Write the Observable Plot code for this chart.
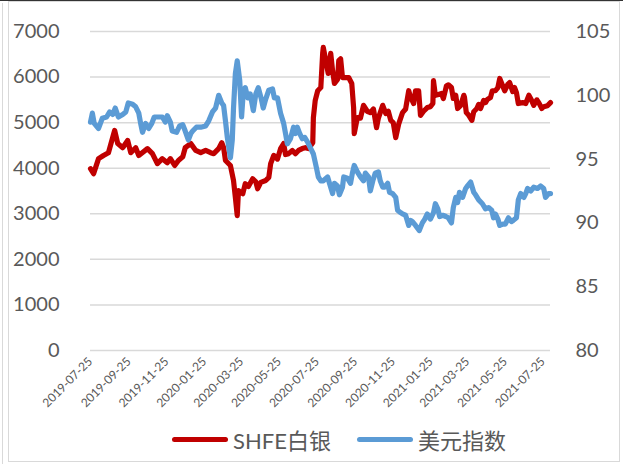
<!DOCTYPE html>
<html>
<head>
<meta charset="utf-8">
<script src="https://cdn.jsdelivr.net/npm/d3@7"></script>
<script src="https://cdn.jsdelivr.net/npm/@observablehq/plot@0.6"></script>
<style>
  html, body { margin: 0; padding: 0; background: #fff; }
  body { width: 623px; height: 464px; position: relative; overflow: hidden;
         font-family: Lato, "Noto Sans CJK SC", sans-serif; }
  #topline { position: absolute; left: 0; top: 0; width: 623px; height: 1px; background: #333; }
  #outer { position: absolute; left: 2px; top: 3px; width: 1px; height: 461px; background: #d9d9d9; }
  #frame { position: absolute; left: 8px; top: 1px; width: 610px; height: 459px; border: 1.5px solid #d9d9d9; }
  #chart { position: absolute; left: 0; top: 0; }
  #legend { position: absolute; left: 172px; top: 423px; display: flex; align-items: center;
            font-size: 22px; color: #595959; white-space: nowrap; }
  .sw { width: 56px; height: 5px; border-radius: 3px; margin-right: 5px; }
  .item { display: flex; align-items: center; margin-right: 26px; }
</style>
</head>
<body>
<div id="topline"></div>
<div id="outer"></div>
<div id="frame"></div>
<div id="chart"></div>
<div id="legend"></div>
<script>
// ---- data ----
const seriesNames = ["SHFE白银", "美元指数"];
const leftTicks = [0, 1000, 2000, 3000, 4000, 5000, 6000, 7000];
const rightTicks = [80, 85, 90, 95, 100, 105];
const xTickLabels = ["2019-07-25","2019-09-25","2019-11-25","2020-01-25","2020-03-25","2020-05-25",
  "2020-07-25","2020-09-25","2020-11-25","2021-01-25","2021-03-25","2021-05-25","2021-07-25"];

const silverDates = [
  "2019-07-25","2019-07-30","2019-08-07","2019-08-15","2019-08-23","2019-09-02","2019-09-07","2019-09-15","2019-09-23","2019-09-28",
  "2019-10-06","2019-10-11","2019-10-25","2019-11-02","2019-11-10","2019-11-18","2019-11-26","2019-12-01","2019-12-08","2019-12-14",
  "2019-12-21","2019-12-25","2020-01-03","2020-01-11","2020-01-19","2020-01-27","2020-02-04","2020-02-09","2020-02-17","2020-02-22",
  "2020-02-25","2020-02-28","2020-03-07","2020-03-12","2020-03-15","2020-03-18","2020-03-20","2020-03-27","2020-03-31","2020-04-05",
  "2020-04-12","2020-04-17","2020-04-20","2020-04-25","2020-05-03","2020-05-08","2020-05-11","2020-05-16","2020-05-22","2020-05-27",
  "2020-06-01","2020-06-04","2020-06-09","2020-06-15","2020-06-20","2020-06-25","2020-07-01","2020-07-06","2020-07-11","2020-07-18",
  "2020-07-19","2020-07-22","2020-07-26","2020-07-31","2020-08-03","2020-08-04","2020-08-12","2020-08-16","2020-08-19","2020-08-22",
  "2020-08-27","2020-08-29","2020-09-01","2020-09-04","2020-09-09","2020-09-14","2020-09-19","2020-09-22","2020-09-23","2020-09-28",
  "2020-10-03","2020-10-08","2020-10-14","2020-10-19","2020-10-24","2020-10-29","2020-11-01","2020-11-08","2020-11-13","2020-11-17",
  "2020-11-21","2020-11-25","2020-11-29","2020-12-04","2020-12-10","2020-12-15","2020-12-20","2020-12-23","2020-12-28","2020-12-31",
  "2021-01-05","2021-01-08","2021-01-13","2021-01-19","2021-01-24","2021-01-28","2021-01-29","2021-02-01","2021-02-06","2021-02-11",
  "2021-02-14","2021-02-19","2021-02-22","2021-02-27","2021-03-02","2021-03-06","2021-03-09","2021-03-14","2021-03-19","2021-03-20",
  "2021-03-23","2021-03-27","2021-04-01","2021-04-04","2021-04-09","2021-04-12","2021-04-15","2021-04-20","2021-04-23","2021-04-26",
  "2021-05-01","2021-05-04","2021-05-09","2021-05-13","2021-05-16","2021-05-21","2021-05-24","2021-05-29","2021-06-01","2021-06-06",
  "2021-06-09","2021-06-12","2021-06-15","2021-06-22","2021-06-27","2021-07-02","2021-07-06","2021-07-10","2021-07-15","2021-07-18",
  "2021-07-23","2021-07-26","2021-08-01","2021-08-06"];
const silverValues = [
  3990,3880,4210,4280,4340,4830,4540,4450,4610,4340,
  4450,4280,4430,4320,4100,4210,4120,4210,4060,4170,
  4250,4450,4540,4390,4340,4390,4340,4320,4430,4560,
  4450,4170,4060,3730,3360,2960,3510,3440,3660,3600,
  3770,3700,3550,3690,3730,3800,4100,4280,4200,4430,
  4540,4300,4320,4390,4320,4390,4430,4450,4430,4560,
  5110,5490,5700,5770,6520,6650,6080,6520,6140,5860,
  5950,6360,6400,5990,5990,5990,5860,5330,4760,5110,
  5100,5380,5250,5220,5300,4890,5100,5380,5200,5250,
  5050,5000,4670,4980,5220,5300,5700,5560,5420,5700,
  5700,5160,5250,5330,5350,5420,5920,5600,5620,5640,
  5530,5810,5830,5770,5530,5600,5310,5380,5600,5560,
  5220,5160,5050,5240,5310,5400,5310,5490,5440,5510,
  5550,5700,5700,5770,5970,5800,5700,5840,5880,5680,
  5770,5660,5420,5440,5420,5600,5500,5380,5500,5440,
  5310,5350,5370,5440];

const dollarDates = [
  "2019-07-25","2019-07-28","2019-07-31","2019-08-07","2019-08-13","2019-08-20","2019-08-25","2019-08-30","2019-09-03","2019-09-08",
  "2019-09-15","2019-09-20","2019-09-24","2019-10-01","2019-10-06","2019-10-11","2019-10-14","2019-10-17","2019-10-22","2019-10-27",
  "2019-11-01","2019-11-05","2019-11-12","2019-11-18","2019-11-23","2019-11-26","2019-12-01","2019-12-04","2019-12-11","2019-12-16",
  "2019-12-21","2019-12-25","2019-12-30","2020-01-03","2020-01-06","2020-01-12","2020-01-19","2020-01-27","2020-02-01","2020-02-07",
  "2020-02-12","2020-02-17","2020-02-22","2020-02-25","2020-02-28","2020-03-02","2020-03-07","2020-03-10","2020-03-12","2020-03-15",
  "2020-03-18","2020-03-22","2020-03-25","2020-03-28","2020-03-31","2020-04-04","2020-04-08","2020-04-13","2020-04-17","2020-04-21",
  "2020-04-26","2020-04-29","2020-05-03","2020-05-08","2020-05-14","2020-05-17","2020-05-22","2020-05-27","2020-06-01","2020-06-04",
  "2020-06-07","2020-06-12","2020-06-17","2020-06-20","2020-06-23","2020-06-27","2020-07-01","2020-07-05","2020-07-10","2020-07-14",
  "2020-07-19","2020-07-24","2020-07-27","2020-07-31","2020-08-04","2020-08-11","2020-08-14","2020-08-19","2020-08-22","2020-08-27",
  "2020-08-30","2020-09-04","2020-09-06","2020-09-12","2020-09-17","2020-09-20","2020-09-23","2020-09-28","2020-10-03","2020-10-08",
  "2020-10-11","2020-10-16","2020-10-19","2020-10-23","2020-10-27","2020-11-01","2020-11-04","2020-11-08","2020-11-11","2020-11-16",
  "2020-11-19","2020-11-24","2020-11-29","2020-12-02","2020-12-07","2020-12-10","2020-12-15","2020-12-20","2020-12-23","2020-12-26",
  "2020-12-31","2021-01-03","2021-01-06","2021-01-11","2021-01-15","2021-01-19","2021-01-24","2021-01-29","2021-02-01","2021-02-05",
  "2021-02-08","2021-02-13","2021-02-18","2021-02-22","2021-02-27","2021-03-02","2021-03-06","2021-03-09","2021-03-12","2021-03-17",
  "2021-03-22","2021-03-25","2021-03-30","2021-04-04","2021-04-07","2021-04-12","2021-04-18","2021-04-23","2021-04-28","2021-05-03",
  "2021-05-06","2021-05-09","2021-05-13","2021-05-16","2021-05-21","2021-05-25","2021-05-30","2021-06-04","2021-06-07","2021-06-12",
  "2021-06-15","2021-06-19","2021-06-24","2021-06-27","2021-06-30","2021-07-05","2021-07-10","2021-07-16","2021-07-21","2021-07-26",
  "2021-07-29","2021-08-03","2021-08-06"];
const dollarValues = [
  97.9,98.6,97.8,97.4,98.2,98.3,98.7,98.5,99.0,98.3,
  98.5,98.7,99.4,99.3,99.1,98.6,97.8,97.1,97.8,97.4,
  97.8,98.3,98.3,98.3,97.9,98.4,97.9,97.2,97.1,97.6,
  97.7,97.2,96.5,97.0,97.2,97.5,97.5,97.6,98.0,98.7,
  99.0,100.0,99.4,99.2,98.0,96.7,95.1,96.5,99.0,101.7,
  102.7,101.2,98.3,100.4,100.6,99.8,100.1,98.8,100.1,100.6,
  99.7,99.0,99.7,100.4,100.5,99.8,99.8,98.6,97.8,97.0,
  96.2,96.6,97.5,97.0,97.5,97.0,96.6,96.7,96.3,95.9,
  95.4,94.3,93.6,93.3,93.3,93.6,93.1,92.3,93.1,92.9,
  92.2,92.8,93.6,93.5,93.1,93.9,94.5,94.0,93.6,93.3,
  93.9,93.6,92.5,93.3,93.9,94.0,93.3,92.8,92.8,93.1,
  92.4,92.3,92.0,91.0,90.8,90.7,90.6,89.8,90.2,90.1,
  89.8,89.6,89.4,90.0,90.3,90.7,90.3,90.8,91.5,91.1,
  90.5,90.6,90.5,90.4,90.0,91.2,92.0,91.6,92.4,92.0,
  92.7,92.9,93.2,92.4,92.2,91.8,91.5,91.1,91.2,91.0,
  90.4,90.7,90.3,89.8,89.9,89.9,90.4,90.1,90.2,90.4,
  91.8,92.3,92.0,92.3,92.7,92.5,92.8,92.7,92.9,92.7,
  92.0,92.3,92.3];

// ---- build ----
const parse = d3.utcParse("%Y-%m-%d");
const silver = silverDates.map((d, i) => ({date: parse(d), value: silverValues[i]}));
const dollar = dollarDates.map((d, i) => ({date: parse(d), value: dollarValues[i]}));

const leftMax = leftTicks[leftTicks.length - 1];
const rMin = rightTicks[0], rMax = rightTicks[rightTicks.length - 1];
const toLeft = v => (v - rMin) / (rMax - rMin) * leftMax;

const red = "#C00000", blue = "#5B9BD5", grey = "#595959";
const fontFam = 'Lato, "Noto Sans CJK SC", sans-serif';

const chart = Plot.plot({
  width: 623,
  height: 420,
  marginLeft: 90,
  marginRight: 73,
  marginTop: 31,
  marginBottom: 70,
  style: {fontFamily: fontFam, color: grey, background: "transparent", overflow: "visible"},
  x: {type: "utc", domain: [parse("2019-07-25"), parse("2021-08-06")]},
  y: {domain: [0, leftMax]},
  marks: [
    Plot.ruleY(leftTicks, {stroke: "#d9d9d9", strokeWidth: 1.5}),
    Plot.axisY(leftTicks, {anchor: "left", tickSize: 0, tickPadding: 31, fontSize: 20, label: null, tickFormat: d => String(d)}),
    Plot.axisY(rightTicks.map(toLeft), {anchor: "right", tickSize: 0, tickPadding: 25, fontSize: 20, label: null,
      tickFormat: (d, i) => String(rightTicks[i])}),
    Plot.axisX(xTickLabels.map(parse), {anchor: "bottom", tickSize: 0, tickPadding: 9, tickRotate: -45, fontSize: 12,
      label: null, tickFormat: d3.utcFormat("%Y-%m-%d")}),
    Plot.lineY(silver, {x: "date", y: "value", stroke: red, strokeWidth: 5.2, strokeLinejoin: "round", strokeLinecap: "round"}),
    Plot.lineY(dollar, {x: "date", y: d => toLeft(d.value), stroke: blue, strokeWidth: 5.2, strokeLinejoin: "round", strokeLinecap: "round"})
  ]
});
document.getElementById("chart").appendChild(chart);

const legend = document.getElementById("legend");
[[seriesNames[0], red], [seriesNames[1], blue]].forEach(([name, color]) => {
  const item = document.createElement("div");
  item.className = "item";
  const sw = document.createElement("div");
  sw.className = "sw";
  sw.style.background = color;
  const t = document.createElement("span");
  t.textContent = name;
  item.appendChild(sw);
  item.appendChild(t);
  legend.appendChild(item);
});
</script>
</body>
</html>
